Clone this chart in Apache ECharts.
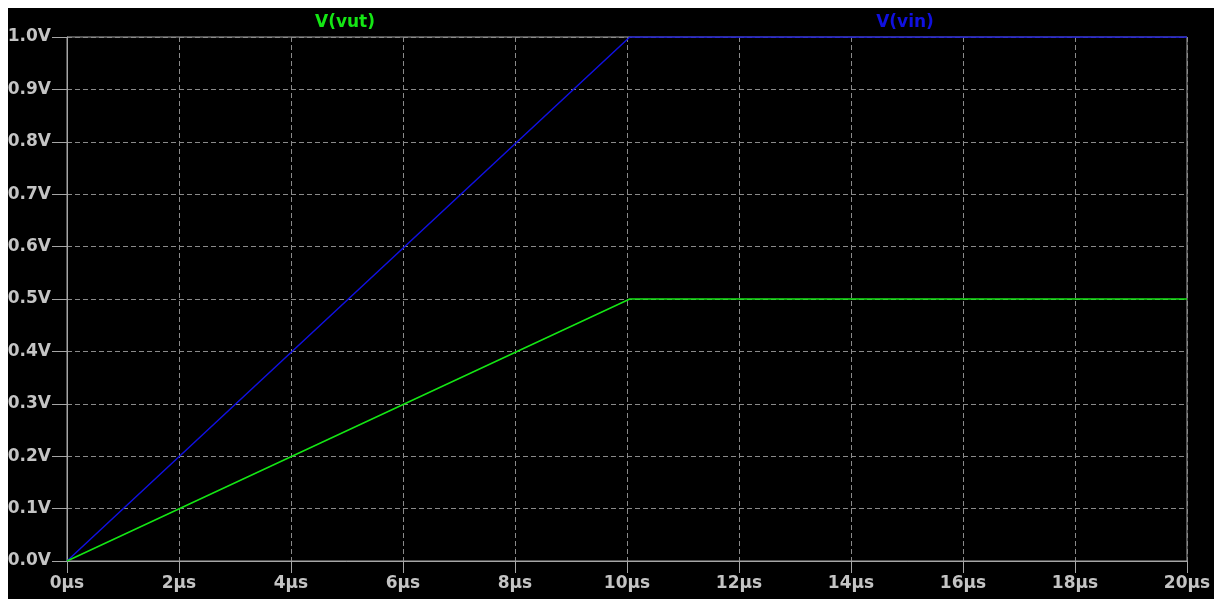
<!DOCTYPE html>
<html>
<head>
<meta charset="utf-8">
<script src="https://cdn.jsdelivr.net/npm/echarts@6/dist/echarts.min.js"></script>
<style>
  html, body { margin: 0; padding: 0; background: #ffffff; overflow: hidden; }
  #chart { position: absolute; left: 8px; top: 8px; width: 1206px; height: 591px; background: #000000; }
</style>
</head>
<body>
<div id="chart"></div>
<script>
// Transient simulation: time in microseconds, node voltages in volts
const timeUs = [0, 10.05, 20];
const vin = [0, 1.0, 1.0];
const vut = [0, 0.5, 0.5];

const traceNames = ['V(vut)', 'V(vin)'];
const traceColors = ['#14e614', '#1010e0'];

const xTicks = [0, 2, 4, 6, 8, 10, 12, 14, 16, 18, 20];
const yTicks = [0, 0.1, 0.2, 0.3, 0.4, 0.5, 0.6, 0.7, 0.8, 0.9, 1.0];

const grey = '#a6a6a6';
const labelGrey = '#c4c4c4';
const fontFamily = 'DejaVu Sans';

const chart = echarts.init(document.getElementById('chart'), null, { renderer: 'canvas' });

const toPairs = (ys) => timeUs.map((t, i) => [t, ys[i]]);

chart.setOption({
  animation: false,
  backgroundColor: '#000000',
  title: [
    {
      text: traceNames[0], left: 337, top: 6, padding: 0, textAlign: 'center',
      textStyle: { color: traceColors[0], fontFamily, fontWeight: 'bold', fontSize: 17 }
    },
    {
      text: traceNames[1], left: 897, top: 6, padding: 0, textAlign: 'center',
      textStyle: { color: traceColors[1], fontFamily, fontWeight: 'bold', fontSize: 17 }
    }
  ],
  grid: {
    left: 59, top: 29, right: 27, bottom: 38,
    outerBoundsMode: 'none', containLabel: false,
    show: true, borderColor: grey, borderWidth: 1, backgroundColor: 'transparent'
  },
  xAxis: {
    type: 'value',
    min: xTicks[0], max: xTicks[xTicks.length - 1], interval: 2,
    axisLine: { show: true, lineStyle: { color: grey, width: 1 } },
    axisTick: { show: true, length: 12, inside: false, lineStyle: { color: grey } },
    axisLabel: {
      color: labelGrey, fontFamily, fontWeight: 'bold', fontSize: 17, margin: 14,
      formatter: (v) => v + 'µs'
    },
    splitLine: { show: true, lineStyle: { color: '#8a8a8a', type: [5, 3], width: 1 } }
  },
  yAxis: {
    type: 'value',
    min: yTicks[0], max: yTicks[yTicks.length - 1], interval: 0.1,
    axisLine: { show: true, lineStyle: { color: grey, width: 1 } },
    axisTick: { show: true, length: 15, inside: false, lineStyle: { color: grey } },
    axisLabel: {
      color: labelGrey, fontFamily, fontWeight: 'bold', fontSize: 17, margin: 16,
      formatter: (v) => v.toFixed(1) + 'V'
    },
    splitLine: { show: true, lineStyle: { color: '#8a8a8a', type: [5, 3], width: 1 } }
  },
  series: [
    {
      name: traceNames[1], type: 'line', data: toPairs(vin),
      showSymbol: false, lineStyle: { color: traceColors[1], width: 1.5 }, z: 3
    },
    {
      name: traceNames[0], type: 'line', data: toPairs(vut),
      showSymbol: false, lineStyle: { color: traceColors[0], width: 1.5 }, z: 4
    }
  ]
});
</script>
</body>
</html>
